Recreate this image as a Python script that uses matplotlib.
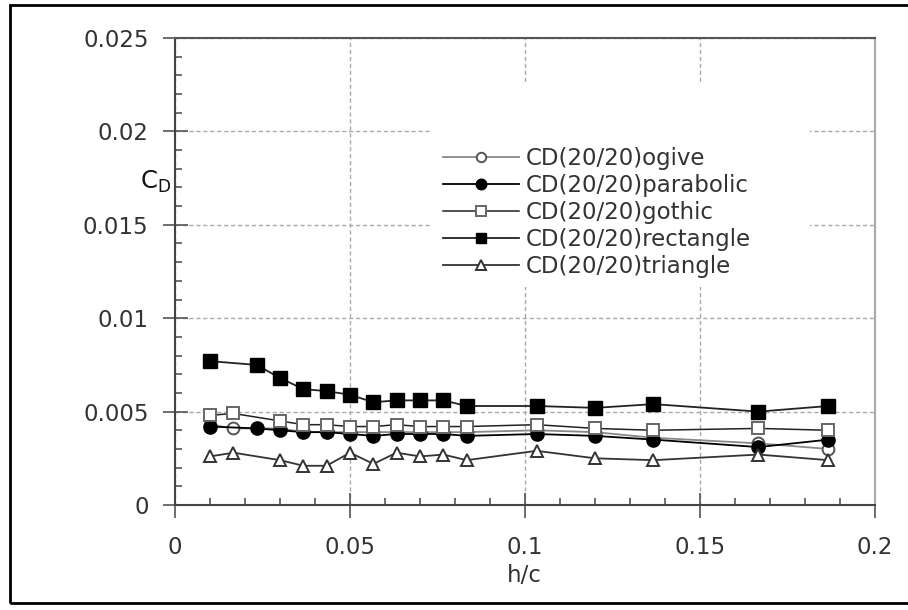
import matplotlib
matplotlib.use('Agg')
import matplotlib.pyplot as plt
from matplotlib.ticker import MultipleLocator
from matplotlib.patches import Rectangle

# Данные
x_rect = [0.01, 0.0233, 0.03, 0.0367, 0.0433, 0.05, 0.0567, 0.0633, 0.07,
          0.0767, 0.0833, 0.1033, 0.12, 0.1367, 0.1667, 0.1867]
x_open = [0.01, 0.0167, 0.03, 0.0367, 0.0433, 0.05, 0.0567, 0.0633, 0.07,
          0.0767, 0.0833, 0.1033, 0.12, 0.1367, 0.1667, 0.1867]

cd_ogive = [0.0043, 0.0041, 0.0041, 0.0039, 0.0039, 0.0039, 0.0039, 0.0039,
            0.0039, 0.0039, 0.0039, 0.0040, 0.0039, 0.0036, 0.0033, 0.0030]
cd_parabolic = [0.0042, 0.0041, 0.0040, 0.0039, 0.0039, 0.0038, 0.0037, 0.0038,
                0.0038, 0.0038, 0.0037, 0.0038, 0.0037, 0.0035, 0.0031, 0.0035]
cd_gothic = [0.0048, 0.0049, 0.0045, 0.0043, 0.0043, 0.0042, 0.0042, 0.0043,
             0.0042, 0.0042, 0.0042, 0.0043, 0.0041, 0.0040, 0.0041, 0.0040]
cd_rectangle = [0.0077, 0.0075, 0.0068, 0.0062, 0.0061, 0.0059, 0.0055, 0.0056,
                0.0056, 0.0056, 0.0053, 0.0053, 0.0052, 0.0054, 0.0050, 0.0053]
cd_triangle = [0.0026, 0.0028, 0.0024, 0.0021, 0.0021, 0.0028, 0.0022, 0.0028,
               0.0026, 0.0027, 0.0024, 0.0029, 0.0025, 0.0024, 0.0027, 0.0024]

x_ticks = [0, 0.05, 0.1, 0.15, 0.2]
x_labels = ['0', '0.05', '0.1', '0.15', '0.2']
y_ticks = [0, 0.005, 0.01, 0.015, 0.02, 0.025]
y_labels = ['0', '0.005', '0.01', '0.015', '0.02', '0.025']

plt.rcParams['font.family'] = ['DejaVu Sans']
FS = 16.5
TXT = '#333333'

fig = plt.figure(figsize=(9.08, 6.1), dpi=100)
ax = fig.add_axes([175 / 908, 1 - 505 / 610, 700 / 908, 467 / 610])

ax.plot(x_open, cd_ogive, '-', color='#888888', lw=1.3, marker='o',
        ms=8.5, mfc='white', mec='#555555', mew=1.4,
        label='CD(20/20)ogive', zorder=3)
ax.plot(x_rect, cd_parabolic, '-', color='black', lw=1.3, marker='o',
        ms=9.5, mfc='black', mec='black', label='CD(20/20)parabolic', zorder=3)
ax.plot(x_open, cd_gothic, '-', color='#222222', lw=1.1, marker='s',
        ms=8.5, mfc='white', mec='#666666', mew=1.4,
        label='CD(20/20)gothic', zorder=3)
ax.plot(x_rect, cd_rectangle, '-', color='#222222', lw=1.3, marker='s',
        ms=9.5, mfc='black', mec='black', label='CD(20/20)rectangle', zorder=3)
ax.plot(x_open, cd_triangle, '-', color='#333333', lw=1.3, marker='^',
        ms=8.5, mfc='white', mec='#333333', mew=1.4,
        label='CD(20/20)triangle', zorder=3)

ax.set_xlim(0, 0.2)
ax.set_ylim(0, 0.025)
ax.set_xticks(x_ticks)
ax.set_xticklabels(x_labels)
ax.set_yticks(y_ticks)
ax.set_yticklabels(y_labels)
ax.xaxis.set_minor_locator(MultipleLocator(0.01))
ax.yaxis.set_minor_locator(MultipleLocator(0.001))

ax.tick_params(which='major', direction='inout', length=18, width=1.2,
               color='#555555', labelsize=FS, labelcolor=TXT)
ax.tick_params(axis='x', which='major', pad=13)
ax.tick_params(axis='y', which='major', pad=10)
ax.tick_params(which='minor', direction='in', length=5, width=1.2,
               color='#555555')

ax.grid(True, which='major', linestyle=(0, (3, 2)), color='#aaaaaa', lw=1.0)
ax.set_axisbelow(True)

for side in ['left', 'bottom']:
    ax.spines[side].set_color('#444444')
    ax.spines[side].set_linewidth(1.5)
ax.spines['top'].set_color('#555555')
ax.spines['top'].set_linewidth(1.5)
ax.spines['right'].set_color('#aaaaaa')
ax.spines['right'].set_linewidth(1.5)

# белый фон под легендой (перекрывает сетку)
ax.add_patch(Rectangle((430 / 908, 1 - 287 / 610), 380 / 908, 204 / 610,
                       transform=fig.transFigure, facecolor='white',
                       edgecolor='none', zorder=1))

leg = ax.legend(loc='upper left', bbox_to_anchor=(443 / 908, 1 - 147 / 610),
                bbox_transform=fig.transFigure, fontsize=FS, frameon=False,
                handlelength=3.3, handletextpad=0.3, labelspacing=0.18,
                borderpad=0, borderaxespad=0, markerscale=0.8)
for t in leg.get_texts():
    t.set_color(TXT)

fig.text(140 / 908, 1 - 182 / 610, r'C$_\mathregular{D}$', fontsize=FS + 1,
         color='#111111', va='center', ha='left')
fig.text(524 / 908, 1 - 575 / 610, 'h/c', fontsize=FS, color=TXT,
         ha='center', va='center')

# рамка вокруг рисунка
fig.patches.append(Rectangle((10 / 908, 1 - 603 / 610), 920 / 908, 598 / 610,
                             transform=fig.transFigure, fill=False,
                             edgecolor='black', lw=2))

fig.savefig('out.png', dpi=100)
